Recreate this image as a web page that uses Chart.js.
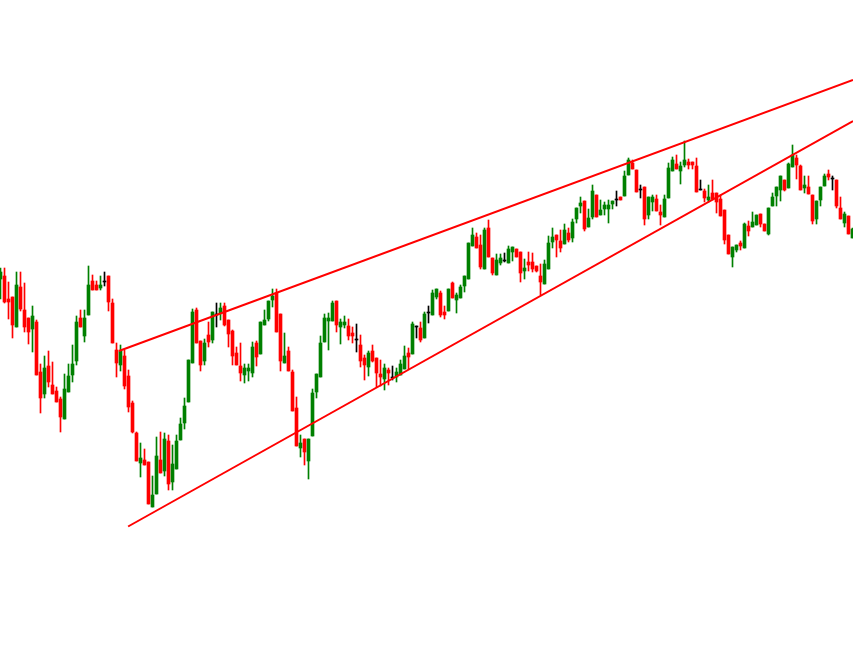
<!DOCTYPE html>
<html>
<head>
<meta charset="utf-8">
<script src="https://cdn.jsdelivr.net/npm/chart.js@4/dist/chart.umd.min.js"></script>
<style>
  html, body { margin: 0; padding: 0; background: #ffffff; }
  canvas { display: block; }
</style>
</head>
<body>
<canvas id="myChart" width="853" height="672"></canvas>
<script>
// candle prices (arbitrary units), one entry per bar, oldest first
var openArr = [
  321,324,301,303,273,313,290,282,271,278, 228,206,234,215,209,201,181,208,225,239,
  282,264,285,319,315,312,319,324,297,250, 235,244,224,197,167,137,140,138,93,106,
  140,129,159,118,131,160,177,198,237,290, 259,239,265,260,286,287,294,280,269,247,
  234,225,229,227,257,246,275,281,300,307, 286,237,249,228,192,152,161,139,164,208,
  223,258,279,279,299,273,275,274,267,261, 255,242,233,249,242,226,221,230,223,223,
  225,231,247,246,274,272,262,288,285,303, 307,288,289,317,300,302,314,321,354,363,
  355,331,372,342,325,337,340,337,348,351, 348,329,338,338,334,324,316,331,358,365,
  359,356,367,362,381,394,399,373,383,405, 385,391,391,396,401,403,404,425,437,430,
  411,413,385,398,401,388,383,402,429,436, 429,435,438,438,434,411,409,400,407,407,
  401,390,365,343,350,357,352,374,373,375, 386,376,366,394,404,410,420,412,433,442,
  434,412,413,405,381,400,414,426,422,420, 392,377,384,362
];
var highArr = [
  332,332,318,303,328,328,317,282,294,280, 236,244,249,238,213,203,226,236,255,284,
  290,290,334,325,319,324,328,324,301,257, 255,250,230,199,168,157,151,138,124,163,
  168,167,165,155,165,182,202,240,291,292, 259,261,278,288,297,297,297,280,270,253,
  257,236,236,258,259,278,290,299,311,311, 286,267,253,230,203,165,161,161,211,226,
  264,286,287,299,299,281,284,281,273,276, 265,245,249,255,242,240,236,232,234,232,
  240,254,252,278,274,278,288,294,310,311, 309,294,311,318,307,315,324,357,372,367,
  365,372,380,342,346,346,347,354,353,351, 348,341,348,347,334,336,340,364,372,365,
  370,376,372,381,392,403,399,391,415,405, 400,398,400,399,409,403,429,442,440,430,
  415,413,403,405,405,395,405,437,443,445, 438,459,441,438,442,420,411,415,420,407,
  405,390,365,353,355,359,377,379,388,385, 386,376,392,407,413,424,420,437,455,445,
  435,424,424,405,399,413,426,430,424,420, 403,388,384,372
];
var lowArr = [
  301,297,281,262,273,289,268,256,248,225, 187,202,213,206,198,168,181,208,218,235,
  273,258,285,310,310,310,314,289,257,223, 229,211,188,167,139,123,135,96,93,106,
  127,124,110,110,131,160,171,198,237,257, 229,235,253,257,273,280,274,253,235,235,
  219,217,219,223,234,246,275,279,293,268, 229,237,229,189,154,143,135,121,164,202,
  223,258,250,279,268,256,272,260,257,248, 233,220,224,238,213,214,210,215,220,218,
  225,231,231,246,262,258,262,277,285,301, 283,281,289,302,287,302,308,321,354,352,
  331,331,343,325,325,335,338,337,339,343, 318,321,329,328,328,305,316,331,352,343,
  348,356,358,358,377,387,369,373,381,383, 385,385,377,391,394,400,404,425,431,408,
  402,375,381,389,389,375,383,402,429,431, 416,433,431,431,408,410,398,398,400,387,
  384,356,346,333,348,350,352,364,373,375, 373,369,365,394,394,399,409,412,433,421,
  410,407,406,376,376,394,414,420,410,392, 381,373,366,362
];
var closeArr = [
  328,298,298,275,315,291,273,268,284,225, 202,232,218,206,198,183,211,224,236,278,
  273,282,315,310,310,315,319,298,257,237, 249,214,193,168,139,142,135,96,105,144,
  127,161,116,136,159,176,194,240,288,257, 235,257,258,288,286,292,275,266,244,235,
  227,232,232,253,243,278,280,299,304,268, 239,244,229,189,154,157,148,161,207,226,
  257,282,282,297,275,278,278,264,264,261, 239,235,247,239,227,223,232,227,223,228,
  236,244,243,276,274,260,286,288,307,311, 285,285,311,302,305,313,324,357,365,352,
  333,370,343,327,340,342,340,351,353,343, 327,332,335,331,329,318,336,357,363,360,
  352,370,360,378,392,397,371,382,409,383, 390,395,395,399,401,400,424,440,431,408,
  411,381,403,403,389,385,401,432,440,431, 434,440,435,435,408,411,402,403,401,398,
  384,360,346,353,355,354,376,369,378,385, 376,369,392,403,413,424,410,436,445,435,
  410,415,406,379,399,413,424,423,422,394, 381,386,366,371
];

// trend lines: [start bar, start price], [end bar, end price]
var upperLine = [[29.6, 249], [213.125, 520]];
var lowerLine = [[31.9, 73.5], [213.125, 479]];

var GREEN = "#008000";
var RED = "#ff0000";

function candleColor(i) {
  if (closeArr[i] > openArr[i]) return GREEN;
  if (closeArr[i] < openArr[i]) return RED;
  return "#000000";
}

function getGraph() {

  var wicks = [];
  var bodies = [];
  for (var i = 0; i < openArr.length; i++) {
    wicks.push({ x: i, y: [lowArr[i], highArr[i]] });
    bodies.push({ x: i, y: [openArr[i], closeArr[i]] });
  }

  var toPoints = function(arr) {
    return arr.map(function(p) { return { x: p[0], y: p[1] }; });
  };

  var ctx = document.getElementById("myChart").getContext("2d");
  var chart = new Chart(ctx, {
    type: "bar",
    data: {
      datasets: [{
        type: "line",
        label: "Upper",
        data: toPoints(upperLine),
        borderColor: RED,
        borderWidth: 2,
        pointRadius: 0,
        fill: false
      }, {
        type: "line",
        label: "Lower",
        data: toPoints(lowerLine),
        borderColor: RED,
        borderWidth: 2,
        pointRadius: 0,
        fill: false
      }, {
        label: "Body",
        data: bodies,
        backgroundColor: function(c) { return candleColor(c.dataIndex); },
        barThickness: 3,
        minBarLength: 1,
        grouped: false,
        borderWidth: 0
      }, {
        label: "Wick",
        data: wicks,
        backgroundColor: function(c) { return candleColor(c.dataIndex); },
        barThickness: 1,
        grouped: false,
        borderWidth: 0
      }]
    },
    options: {
      responsive: false,
      animation: false,
      layout: { padding: 0 },
      plugins: {
        legend: { display: false },
        tooltip: { enabled: false }
      },
      scales: {
        x: { type: "linear", min: -0.125, max: 213.125, offset: false, display: false },
        y: { min: -72, max: 600, display: false }
      }
    }
  });
}

getGraph();
</script>
</body>
</html>
